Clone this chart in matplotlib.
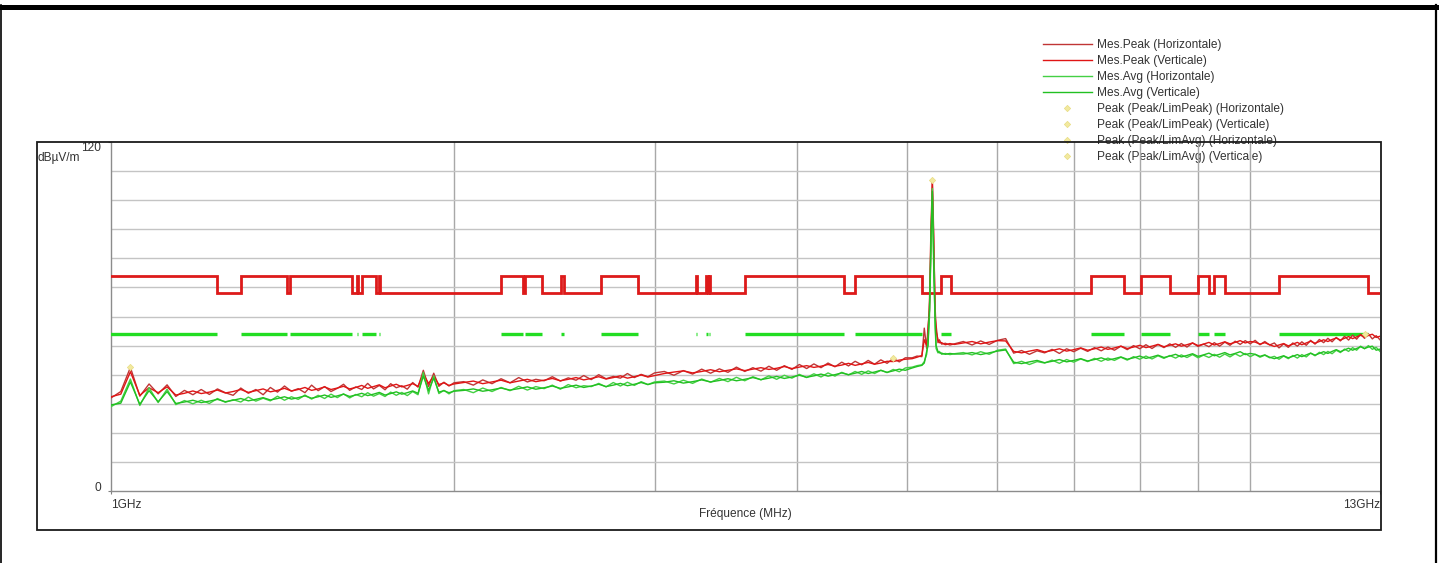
import matplotlib
matplotlib.use("Agg")
import matplotlib.pyplot as plt
from matplotlib.lines import Line2D
from matplotlib.patches import Rectangle

plt.rcParams['font.family'] = ['Liberation Sans', 'DejaVu Sans']

# ---------------------------------------------------------------- data
# sweep frequencies (MHz)
freq_mhz = [
    1000, 1020, 1040, 1060, 1080, 1100, 1120, 1140, 1160, 1180,
    1200, 1220, 1240, 1260, 1280, 1300, 1320, 1340, 1360, 1380,
    1400, 1420, 1440, 1460, 1480, 1500, 1520, 1540, 1560, 1580,
    1600, 1620, 1640, 1660, 1680, 1700, 1720, 1740, 1760, 1780,
    1800, 1820, 1840, 1860, 1880, 1900, 1920, 1940, 1960, 1980,
    2000,
    2040, 2080, 2120, 2160, 2200, 2240, 2280, 2320, 2360, 2400,
    2440, 2480, 2520, 2560, 2600, 2640, 2680, 2720, 2760, 2800,
    2840, 2880, 2920, 2960, 3000,
    3060, 3120, 3180, 3240, 3300, 3360, 3420, 3480, 3540, 3600,
    3660, 3720, 3780, 3840, 3900, 3960, 4020, 4080, 4140, 4200,
    4260, 4320, 4380, 4440, 4500, 4560, 4620, 4680, 4740, 4800,
    4860, 4920, 4980,
    5050, 5100, 5150, 5175, 5200, 5215, 5230, 5245, 5260, 5275,
    5290, 5300, 5320, 5335, 5360, 5400, 5450, 5500,
    5600, 5700, 5800, 5900, 6000, 6100, 6200, 6300, 6400, 6500,
    6600, 6700, 6800, 6900, 7000, 7100, 7200, 7300, 7400, 7500,
    7600, 7700, 7800, 7900, 8000, 8100, 8200, 8300, 8400, 8500,
    8600, 8700, 8800, 8900, 9000, 9100, 9200, 9300, 9400, 9500,
    9600, 9700, 9800, 9900, 10000, 10100, 10200, 10300, 10400, 10500,
    10600, 10700, 10800, 10900, 11000, 11100, 11200, 11300, 11400, 11500,
    11600, 11700, 11800, 11900, 12000, 12100, 12200, 12300, 12400, 12500,
    12600, 12700, 12800, 12900, 13000,
]

# peak detector, horizontal polarisation (dBuV/m)
peak_h = [
    32.0, 34.2, 42.5, 32.6, 36.8, 33.4, 36.5, 32.5, 34.6, 33.1,
    34.9, 33.2, 35.1, 33.8, 32.9, 35.4, 33.6, 34.9, 33.1, 35.6,
    34.0, 36.1, 34.3, 35.2, 33.8, 36.4, 34.5, 35.9, 34.2, 35.3,
    36.7, 34.6, 35.8, 34.9, 37.0, 35.1, 36.3, 34.8, 36.9, 35.5,
    36.2, 35.0, 37.3, 35.7, 41.5, 35.9, 40.5, 36.0, 37.4, 36.1,
    37.2,
    37.6, 36.4, 38.2, 36.9, 38.6, 37.2, 39.0, 37.5, 38.4, 37.9,
    39.3, 37.8, 38.9, 38.1, 39.7, 38.3, 40.0, 38.6, 39.4, 38.8,
    40.4, 39.0, 40.1, 39.3, 40.6,
    41.1, 39.8, 41.4, 40.2, 41.9, 40.5, 42.0, 40.8, 42.6, 41.1,
    42.4, 41.2, 42.9, 41.5, 43.1, 41.8, 43.5, 42.1, 43.7, 42.4,
    44.0, 42.7, 44.3, 43.0, 44.6, 43.4, 44.9, 43.6, 45.1, 43.9,
    45.6, 44.4, 45.8,
    45.8, 46.4, 46.2, 56.0, 49.0, 57.0, 62.0, 85.0, 107.0, 88.0,
    60.0, 57.0, 51.0, 52.0, 50.5, 50.8, 50.2, 50.6,
    51.4, 50.2, 51.6, 50.4, 51.8, 52.4, 47.4, 48.3, 47.0, 48.2,
    47.5, 48.7, 47.3, 48.9, 47.9, 49.1, 48.0, 49.3, 48.2, 49.5,
    48.4, 49.8, 48.6, 50.0, 48.9, 50.3, 49.0, 50.4, 49.3, 50.6,
    49.4, 50.7, 49.5, 50.9, 49.7, 50.5, 49.6, 51.0, 49.8, 51.2,
    50.1, 51.5, 50.4, 51.7, 50.6, 51.8, 50.3, 51.4, 50.2, 50.9,
    49.2, 50.6, 49.4, 50.9, 49.8, 51.3, 50.1, 51.8, 50.5, 52.1,
    51.0, 52.5, 51.3, 52.8, 51.6, 53.2, 51.9, 53.6, 52.2, 53.9,
    52.5, 54.0, 52.3, 53.4, 52.0,
]

# peak detector, vertical polarisation (dBuV/m)
peak_v = [
    32.4, 33.3, 41.0, 32.9, 35.5, 33.8, 35.8, 33.0, 33.6, 34.4,
    33.5, 34.0, 34.7, 33.7, 34.2, 34.9, 33.9, 34.5, 35.1, 34.1,
    34.6, 35.3, 34.4, 34.9, 35.6, 34.6, 35.1, 35.8, 34.9, 35.4,
    36.0, 35.1, 35.6, 36.3, 35.3, 35.9, 36.5, 35.5, 36.1, 36.7,
    35.8, 36.3, 36.9, 36.0, 40.2, 37.0, 39.5, 36.6, 37.2, 36.3,
    36.8,
    37.3, 37.8, 36.9, 37.5, 38.1, 37.2, 37.8, 38.4, 37.6, 38.1,
    38.7, 37.9, 38.4, 39.0, 38.2, 38.7, 39.3, 38.5, 39.0, 39.6,
    38.8, 39.3, 39.9, 39.2, 39.7,
    40.4, 40.9, 41.3, 40.6, 41.1, 41.7, 41.0, 41.5, 42.0, 41.4,
    41.9, 42.4, 41.8, 42.2, 42.8, 42.1, 42.6, 43.1, 42.5, 42.9,
    43.5, 42.9, 43.3, 43.9, 43.2, 43.7, 44.2, 43.6, 44.0, 44.6,
    44.5, 45.0, 45.3,
    45.5, 46.0, 46.6, 52.0, 50.0, 54.0, 66.0, 90.0, 106.0, 84.0,
    63.0, 55.0, 52.0, 51.0, 51.0, 50.3, 50.7, 50.4,
    50.9, 51.4, 50.6, 51.2, 51.7, 51.6, 48.0, 47.5, 48.1, 48.6,
    47.8, 48.3, 48.9, 48.1, 48.6, 49.2, 48.4, 48.9, 49.5, 48.7,
    49.2, 49.8, 49.0, 49.5, 50.1, 49.3, 49.8, 50.4, 49.6, 50.1,
    50.6, 49.8, 50.3, 50.9, 50.0, 50.5, 51.1, 50.2, 50.7, 51.3,
    50.6, 51.1, 51.7, 50.9, 51.4, 51.2, 50.5, 51.0, 50.3, 49.7,
    50.2, 50.7, 49.9, 50.5, 51.1, 50.3, 50.9, 51.5, 50.8, 51.4,
    52.0, 51.4, 52.1, 52.6, 51.9, 52.5, 53.1, 52.4, 53.0, 53.6,
    53.0, 53.5, 53.9, 52.8, 53.2,
]

# average detector, horizontal polarisation (dBuV/m)
avg_h = [
    29.0, 30.9, 38.5, 29.4, 35.5, 30.4, 35.0, 29.7, 31.1, 30.0,
    31.2, 30.1, 31.8, 30.5, 31.4, 30.6, 32.3, 30.9, 31.9, 31.0,
    32.6, 31.2, 32.4, 31.5, 33.0, 31.6, 32.9, 31.8, 33.3, 32.1,
    33.4, 32.0, 33.2, 32.4, 33.8, 32.6, 33.5, 32.5, 34.0, 32.9,
    33.9, 32.8, 34.2, 33.1, 40.8, 33.4, 39.6, 33.5, 34.6, 33.4,
    34.5,
    34.9, 33.8, 35.4, 34.2, 35.6, 34.5, 36.0, 34.7, 35.9, 35.2,
    36.4, 35.0, 36.6, 35.5, 36.2, 35.9, 37.0, 35.8, 37.3, 36.1,
    37.4, 36.3, 37.6, 36.6, 37.5,
    37.8, 36.8, 38.1, 37.0, 38.5, 37.4, 38.7, 37.6, 39.1, 37.9,
    39.3, 38.2, 39.6, 38.4, 39.8, 38.8, 40.1, 39.0, 40.3, 39.2,
    40.6, 39.5, 40.8, 39.9, 41.1, 40.1, 41.3, 40.4, 41.5, 40.7,
    41.8, 41.0, 42.3,
    42.6, 43.1, 43.4, 44.5, 47.0, 52.0, 60.0, 82.0, 104.0, 80.0,
    56.0, 49.0, 47.5, 48.0, 47.0, 47.3, 46.9, 47.2,
    47.6, 46.8, 47.9, 47.0, 48.4, 48.8, 43.8, 44.6, 43.5, 44.5,
    44.0, 45.0, 43.9, 45.2, 44.3, 45.4, 44.5, 45.6, 44.6, 45.7,
    44.9, 46.0, 45.0, 46.2, 45.3, 46.4, 45.4, 46.5, 45.6, 46.6,
    45.7, 46.8, 45.9, 46.9, 45.8, 46.7, 45.9, 47.0, 46.0, 47.1,
    46.1, 47.2, 46.3, 47.3, 46.2, 47.0, 46.0, 46.7, 45.8, 46.3,
    45.3, 46.4, 45.5, 46.6, 45.7, 46.9, 46.1, 47.4, 46.5, 47.7,
    46.9, 48.0, 47.2, 48.4, 47.6, 48.8, 48.0, 49.3, 48.4, 49.8,
    48.9, 50.0, 48.7, 49.4, 48.0,
]

# average detector, vertical polarisation (dBuV/m)
avg_v = [
    29.6, 30.2, 37.5, 29.8, 34.5, 30.7, 34.2, 30.1, 30.6, 31.2,
    30.4, 30.9, 31.5, 30.7, 31.2, 31.8, 31.0, 31.5, 32.1, 31.3,
    31.8, 32.4, 31.6, 32.1, 32.7, 31.9, 32.4, 33.0, 32.2, 32.7,
    33.3, 32.5, 33.0, 33.6, 32.8, 33.3, 33.9, 33.0, 33.5, 34.1,
    33.3, 33.8, 34.4, 33.6, 39.5, 34.6, 38.8, 34.0, 34.5, 33.8,
    34.3,
    34.6, 35.1, 34.3, 34.8, 35.4, 34.7, 35.2, 35.8, 35.0, 35.5,
    36.1, 35.3, 35.8, 36.4, 35.6, 36.1, 36.7, 35.9, 36.4, 37.0,
    36.2, 36.7, 37.3, 36.6, 37.2,
    37.4, 37.9, 37.1, 37.6, 38.2, 37.5, 38.0, 38.6, 37.9, 38.4,
    39.0, 38.3, 38.8, 39.4, 38.7, 39.2, 39.8, 39.1, 39.6, 40.2,
    39.5, 40.0, 40.6, 40.0, 40.5, 41.1, 40.4, 40.9, 41.5, 40.8,
    41.3, 41.9, 41.5,
    42.3, 42.8, 43.2, 44.0, 48.0, 50.0, 63.0, 86.0, 103.0, 76.0,
    58.0, 50.0, 48.0, 47.5, 47.4, 47.0, 47.3, 47.1,
    47.1, 47.6, 46.9, 47.5, 48.1, 48.5, 44.3, 43.8, 44.4, 44.9,
    44.1, 44.6, 45.2, 44.4, 44.9, 45.5, 44.7, 45.2, 45.8, 45.0,
    45.5, 46.1, 45.3, 45.8, 46.4, 45.6, 46.1, 46.7, 45.9, 46.4,
    47.0, 46.1, 46.6, 47.2, 46.3, 46.8, 47.4, 46.5, 47.0, 47.6,
    46.8, 47.3, 47.9, 46.9, 47.3, 47.0, 46.3, 46.8, 46.0, 45.5,
    46.0, 46.5, 45.8, 46.3, 46.9, 46.2, 46.8, 47.4, 46.7, 47.3,
    47.9, 47.3, 48.0, 48.6, 47.9, 48.5, 49.1, 48.4, 49.0, 49.6,
    49.0, 49.5, 49.8, 48.4, 48.8,
]

# restricted bands (MHz): higher peak limit and an average limit apply
band_lo = [960, 1300, 1435, 1645.5, 1660, 1718.8, 2200, 2310, 2483.5, 2690,
           3260, 3332, 3345.8, 3600, 4500, 5350, 7250, 8025, 9000, 9300, 10600]
band_hi = [1240, 1427, 1626.5, 1646.5, 1710, 1722.2, 2300, 2390, 2500, 2900,
           3267, 3339, 3358, 4400, 5150, 5460, 7750, 8500, 9200, 9500, 12700]
peak_limit_restricted = 74.0
peak_limit_other = 68.2
avg_limit_restricted = 54.0

# peak markers
pk_limpeak_h_f, pk_limpeak_h_v = [1040], [42.5]
pk_limpeak_v_f, pk_limpeak_v_v = [5260], [107.0]
pk_limavg_h_f, pk_limavg_h_v = [4860], [45.6]
pk_limavg_v_f, pk_limavg_v_v = [12600], [53.9]

grid_freqs = [2000, 3000, 4000, 5000, 6000, 7000, 8000, 9000, 10000]
level_grid = [10, 20, 30, 40, 50, 60, 70, 80, 90, 100, 110]

FS = 8.6
TXT = '#333333'

# ---------------------------------------------------------------- figure
W, H = 1439, 563
fig = plt.figure(figsize=(W / 100, H / 100), dpi=100)
fig.patch.set_facecolor('white')

ax = fig.add_axes([111 / W, 1 - 491 / H, (1380 - 111) / W, (491 - 142) / H])
ax.patch.set_visible(False)
ax.set_xscale('log')
ax.set_xlim(1000, 13000)
ax.set_ylim(0, 120)

# limit lines
lim_x, lim_y = [], []
for lo, hi in zip(band_lo, band_hi):
    lim_x += [lo, lo, hi, hi]
    lim_y += [peak_limit_other, peak_limit_restricted,
              peak_limit_restricted, peak_limit_other]
lim_x.append(13000)
lim_y.append(peak_limit_other)
ax.plot(lim_x[1:], lim_y[1:], color='#dd1a1a', lw=2.0, zorder=3,
        solid_joinstyle='miter')
ax.hlines([avg_limit_restricted] * len(band_lo), band_lo, band_hi,
          color='#22dd22', lw=2.4, zorder=3, capstyle='butt')

# measured traces
l_pk_h, = ax.plot(freq_mhz, peak_h, color='#c03535', lw=1.0, zorder=4)
l_pk_v, = ax.plot(freq_mhz, peak_v, color='#e01515', lw=1.0, zorder=4)
l_av_h, = ax.plot(freq_mhz, avg_h, color='#44d044', lw=1.0, zorder=4)
l_av_v, = ax.plot(freq_mhz, avg_v, color='#22c022', lw=1.0, zorder=4)

mk_kw = dict(ls='none', marker='D', ms=3.2, mfc='#f2e9a0', mec='#e8dc80',
             mew=0.5, zorder=5)
m1, = ax.plot(pk_limpeak_h_f, pk_limpeak_h_v, **mk_kw)
m2, = ax.plot(pk_limpeak_v_f, pk_limpeak_v_v, **mk_kw)
m3, = ax.plot(pk_limavg_h_f, pk_limavg_h_v, **mk_kw)
m4, = ax.plot(pk_limavg_v_f, pk_limavg_v_v, **mk_kw)

# grid
ax.set_xticks(grid_freqs, minor=True)
ax.set_yticks(level_grid, minor=True)
ax.grid(True, which='minor', axis='y', color='#c4c4c4', lw=1.0, zorder=1)
ax.grid(True, which='minor', axis='x', color='#a8a8a8', lw=1.0, zorder=1)
ax.tick_params(which='minor', length=0, labelbottom=False, labelleft=False)

ax.set_xticks([1000, 13000])
ax.set_xticklabels(['1GHz', '13GHz'], fontsize=FS, color=TXT)
xl = ax.get_xticklabels()
xl[0].set_ha('left')
xl[1].set_ha('right')
ax.tick_params(axis='x', which='major', length=2, pad=4, color='#808080')

ax.set_yticks([0, 120])
ax.set_yticklabels(['0', '120'], fontsize=FS, color=TXT)
yl = ax.get_yticklabels()
yl[0].set_va('baseline')
yl[1].set_va('top')
ax.tick_params(axis='y', which='major', length=2, pad=5, color='#808080')

for side in ('top', 'right'):
    ax.spines[side].set_visible(False)
for side in ('left', 'bottom'):
    ax.spines[side].set_color('#8c8c8c')
    ax.spines[side].set_linewidth(1.0)

ax.set_xlabel('Fréquence (MHz)', fontsize=FS, color=TXT)
ax.xaxis.set_label_coords(0.5, -(508 - 491) / 349)

fig.text(38 / W, 1 - 152 / H, 'dBµV/m', fontsize=FS, color=TXT,
         ha='left', va='top')

# chart frame
fig.add_artist(Rectangle((37 / W, 1 - 530 / H), (1381 - 37) / W, (530 - 142) / H,
                         transform=fig.transFigure, fill=False,
                         ec='#1a1a1a', lw=1.3, zorder=10))
# page frame
fig.add_artist(Line2D([0, 1437 / W], [1 - 6.5 / H] * 2, transform=fig.transFigure,
                      color='black', lw=3.6, zorder=10))
fig.add_artist(Line2D([0.6 / W] * 2, [0, 1 - 5 / H], transform=fig.transFigure,
                      color='black', lw=1.2, zorder=10))
fig.add_artist(Line2D([1435.5 / W] * 2, [0, 1 - 5 / H], transform=fig.transFigure,
                      color='black', lw=1.6, zorder=10))

# legend
leg = fig.legend(
    [l_pk_h, l_pk_v, l_av_h, l_av_v, m1, m2, m3, m4],
    ['Mes.Peak (Horizontale)', 'Mes.Peak (Verticale)',
     'Mes.Avg (Horizontale)', 'Mes.Avg (Verticale)',
     'Peak (Peak/LimPeak) (Horizontale)', 'Peak (Peak/LimPeak) (Verticale)',
     'Peak (Peak/LimAvg) (Horizontale)', 'Peak (Peak/LimAvg) (Verticale)'],
    loc='upper left', bbox_to_anchor=(1043 / W, 1 - 39 / H),
    frameon=False, fontsize=FS, labelcolor=TXT,
    handlelength=4.1, handletextpad=0.42, labelspacing=0.34,
    borderpad=0, borderaxespad=0, numpoints=1)
leg.set_zorder(-1)

fig.savefig('out.png', dpi=100, facecolor='white')
